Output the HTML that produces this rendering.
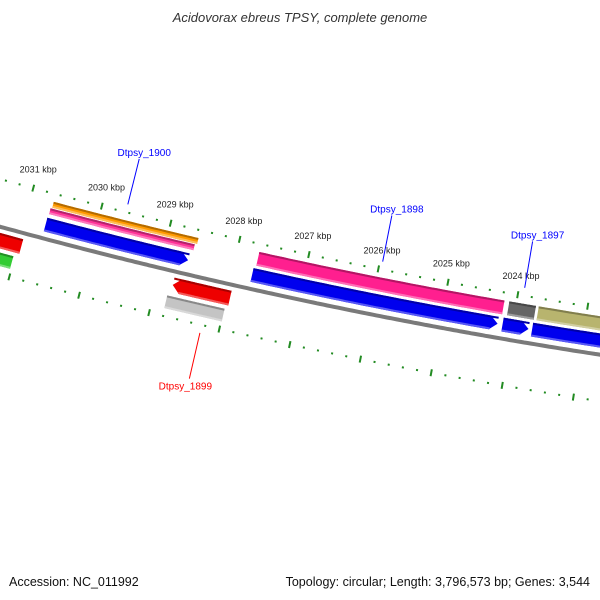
<!DOCTYPE html>
<html><head><meta charset="utf-8"><style>
body{margin:0;background:#fff}
svg{display:block;font-family:"Liberation Sans",sans-serif}
</style></head><body>
<svg id="map" width="600" height="600" viewBox="0 0 600 600" xmlns="http://www.w3.org/2000/svg">
<text x="300" y="22" text-anchor="middle" font-size="13" font-style="italic" fill="#333">Acidovorax ebreus TPSY, complete genome</text>
<g id="layer"></g>
<text x="9" y="586" font-size="12.5" fill="#111">Accession: NC_011992</text>
<text x="590" y="586" text-anchor="end" font-size="12.5" fill="#111">Topology: circular; Length: 3,796,573 bp; Genes: 3,544</text>
</svg>
<script>
const tickKbp = [2019,2020,2021,2022,2023,2024,2025,2026,2027,2028,2029,2030,2031,2032,2033];
const labelKbp = [2024,2025,2026,2027,2028,2029,2030,2031];
const featNames = ['orange-1900','pink-1900','cds-1900','pink-1898','cds-1898','gray-1897','cds-1897','olive-next','cds-next','red-left','green-left','cds-1899','gray-1899'];
const featStart = [2030.67,2030.69,2030.70,2027.69,2027.72,2024.10,2024.14,2023.68,2023.72,2032.0,2032.0,2028.77,2028.81];
const featEnd   = [2028.57,2028.60,2028.64,2024.17,2024.21,2023.72,2023.77,2022.0,2022.0,2030.95,2031.02,2027.95,2027.99];
const featBand  = [0,1,2,3,2,3,2,3,2,4,5,4,5];
const featArrow = [0,0,1,0,1,0,1,0,0,0,0,-1,0];
const featColor = ['#ff9900','#ff3399','#0000ee','#ff1f8f','#0000ee','#666666','#0000ee','#b8b46e','#0000ee','#ee0000','#33cc33','#ee0000','#c4c4c4'];
const geneLabels = ['Dtpsy_1900','Dtpsy_1898','Dtpsy_1897','Dtpsy_1899'];
const geneLabelKbp = [2029.65,2025.96,2023.92,2028.25];
const geneLabelColor = ['#0000ff','#0000ff','#0000ff','#ff0000'];
const geneLabelSide = [-1,-1,-1,1];

const CX=1414, CY=-4932, R=5349;
const bands=[[-38,-32],[-31,-25],[-21,-7],[-38,-24],[6,21],[25,38]];
const NS='http://www.w3.org/2000/svg';
const layer=document.getElementById('layer');
function ang(k){return (99.73+(k-2024)*0.766)*Math.PI/180;}
function pt(k,r){const t=ang(k);return [CX+r*Math.cos(t),CY+r*Math.sin(t)];}
function mk(tag,attrs){const e=document.createElementNS(NS,tag);for(const a in attrs)e.setAttribute(a,attrs[a]);layer.appendChild(e);return e;}
function shade(hex,f){let n=parseInt(hex.slice(1),16);let r=n>>16,g=(n>>8)&255,b=n&255;
 const m=c=>Math.max(0,Math.min(255,Math.round(f<0?c*(1+f):c+(255-c)*f)));return 'rgb('+m(r)+','+m(g)+','+m(b)+')';}
function bandPath(k1,k2,r1,r2,arrow){
 const H=0.11; let a=k1,b=k2; const pts=[];const N=40;
 if(arrow===1)b=k2+H; if(arrow===-1)a=k1-H;
 for(let i=0;i<=N;i++){pts.push(pt(a+(b-a)*i/N,r1));}
 if(arrow===1)pts.push(pt(k2,(r1+r2)/2));
 for(let i=N;i>=0;i--){pts.push(pt(a+(b-a)*i/N,r2));}
 if(arrow===-1)pts.push(pt(k1,(r1+r2)/2));
 return 'M'+pts.map(p=>p[0].toFixed(1)+','+p[1].toFixed(1)).join('L')+'Z';
}
(function(){const pts=[];for(let k=2033;k>=2019;k-=0.05)pts.push(pt(k,R));
 const p=mk('path',{d:'M'+pts.map(q=>q[0].toFixed(1)+','+q[1].toFixed(1)).join('L'),fill:'none',stroke:'#7a7a7a','stroke-width':4});
 
 })();
[R-46,R+46].forEach((rr,ri)=>{
 for(let i=0;i<tickKbp.length-1;i++){
  for(let j=0;j<5;j++){
   const k=tickKbp[i]+j*0.2; const len=j===0?3.5:1;
   const a=pt(k,rr-len),b=pt(k,rr+len);
   const l=mk('line',{x1:a[0],y1:a[1],x2:b[0],y2:b[1],stroke:'#228b22','stroke-width':2});
   
   
  }
 }
});
labelKbp.forEach(k=>{const p=pt(k,R-65);
 const t=mk('text',{x:p[0],y:p[1]+3,'text-anchor':'middle','font-size':9,fill:'#222'});
 t.textContent=k+' kbp';
 
 });
featNames.forEach((n,i)=>{
 const bd=bands[featBand[i]];const r1=R+bd[0],r2=R+bd[1];const col=featColor[i];
 const g=document.createElementNS(NS,'g');layer.appendChild(g);
 
 
 const main=mk('path',{d:bandPath(featStart[i],featEnd[i],r1,r2,featArrow[i]),fill:col});
 g.appendChild(main);
 const top=mk('path',{d:bandPath(featStart[i],featEnd[i],r1,r1+2,0),fill:shade(col,-0.3)});
 g.appendChild(top);
 const bs=featStart[i]-(featArrow[i]===-1?0.1:0), be=featEnd[i]+(featArrow[i]===1?0.1:0);
 const bot=mk('path',{d:bandPath(bs,be,r2-2,r2,0),fill:shade(col,0.35)});
 g.appendChild(bot);
});
geneLabels.forEach((n,i)=>{
 const k=geneLabelKbp[i],s=geneLabelSide[i];
 const a=pt(k,R+s*54),b=pt(k,R+s*101);
 const l=mk('line',{x1:a[0],y1:a[1],x2:b[0],y2:b[1],stroke:geneLabelColor[i],'stroke-width':1});
 
 
 const t=mk('text',{x:b[0]+(s>0?-4:5),y:b[1]+(s>0?11:-3),'text-anchor':'middle','font-size':10,fill:geneLabelColor[i]});
 t.textContent=n;
 
 
});
</script>
</body></html>
